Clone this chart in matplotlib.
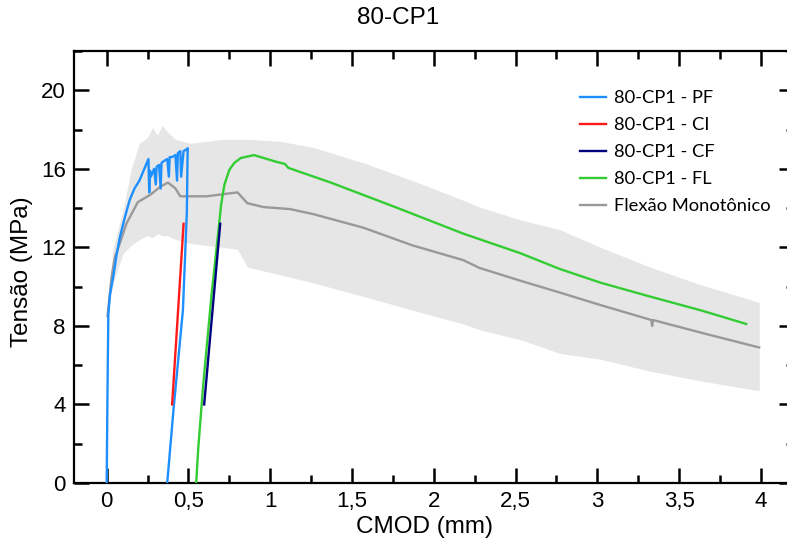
import matplotlib
matplotlib.use("Agg")
import matplotlib.pyplot as plt
from matplotlib.ticker import MultipleLocator, FixedLocator, FixedFormatter

# --- 80-CP1 - PF (pre-cracking, loading + unloading) ---
pf_x = [0.0, 0.004, 0.01, 0.02, 0.04, 0.06, 0.08, 0.11, 0.14, 0.17, 0.20, 0.22,
        0.24, 0.255, 0.26, 0.265, 0.27, 0.29, 0.30, 0.305, 0.32, 0.33, 0.335,
        0.35, 0.37, 0.38, 0.385, 0.40, 0.42, 0.43, 0.435, 0.45, 0.455, 0.47,
        0.49, 0.495, 0.49, 0.466, 0.408, 0.37]
pf_y = [0.0, 4.0, 8.6, 9.6, 10.5, 11.6, 12.5, 13.5, 14.4, 15.0, 15.4, 15.8,
        16.2, 16.5, 14.8, 15.9, 15.6, 16.0, 15.2, 16.1, 16.2, 15.0, 16.3,
        16.4, 16.5, 15.6, 16.6, 16.6, 16.7, 15.4, 16.8, 16.9, 15.6, 16.9,
        17.0, 17.05, 13.8, 8.8, 3.7, 0.0]

# --- 80-CP1 - CI (reloading, initial cycle) ---
ci_x = [0.40, 0.47]
ci_y = [4.0, 13.2]

# --- 80-CP1 - CF (reloading, final cycle) ---
cf_x = [0.596, 0.694]
cf_y = [4.0, 13.2]

# --- 80-CP1 - FL (final flexural loading) ---
fl_x = [0.545, 0.56, 0.59, 0.64, 0.685, 0.70, 0.72, 0.75, 0.78, 0.82, 0.90,
        1.04, 1.09, 1.11, 1.37, 1.78, 2.18, 2.53, 2.77, 3.02, 3.32, 3.63, 3.91]
fl_y = [-0.3, 1.8, 5.0, 9.5, 13.0, 14.2, 15.2, 15.95, 16.3, 16.55, 16.7,
        16.35, 16.25, 16.05, 15.3, 14.0, 12.7, 11.7, 10.9, 10.2, 9.5, 8.8, 8.1]

# --- Monotonic flexure (mean curve) ---
mono_x = [0.005, 0.03, 0.05, 0.08, 0.12, 0.19, 0.27, 0.33, 0.375, 0.42, 0.45,
          0.61, 0.80, 0.86, 0.96, 1.12, 1.26, 1.57, 1.87, 2.18, 2.28, 2.53,
          2.77, 3.02, 3.33, 3.335, 3.34, 3.66, 3.99]
mono_y = [8.5, 10.5, 11.5, 12.2, 13.2, 14.3, 14.7, 15.1, 15.3, 15.0, 14.6,
          14.6, 14.8, 14.25, 14.05, 13.95, 13.7, 13.0, 12.1, 11.35, 10.95,
          10.3, 9.7, 9.06, 8.3, 8.0, 8.3, 7.6, 6.9]

# --- Monotonic flexure scatter envelope ---
band_x = [0.0, 0.01, 0.04, 0.1, 0.15, 0.2, 0.25, 0.28, 0.31, 0.34, 0.37,
          0.42, 0.51, 0.71, 0.8, 0.86, 1.06, 1.26, 1.57, 1.87, 2.18, 2.28,
          2.53, 2.77, 3.02, 3.32, 3.63, 3.99]
band_hi = [8.5, 9.5, 12.0, 13.9, 16.0, 17.3, 17.6, 18.1, 17.7, 18.2, 17.9,
           17.5, 17.3, 17.5, 17.5, 17.5, 17.4, 17.1, 16.3, 15.4, 14.4, 14.05,
           13.4, 12.9, 12.0, 11.0, 10.1, 9.2]
band_lo = [8.0, 8.8, 10.2, 11.7, 12.1, 12.4, 12.6, 12.5, 12.7, 12.6, 12.6,
           12.4, 12.2, 12.0, 11.9, 11.0, 10.6, 10.2, 9.5, 8.8, 8.1, 7.8,
           7.3, 6.6, 6.3, 5.7, 5.2, 4.7]

x_ticks = [0, 0.5, 1, 1.5, 2, 2.5, 3, 3.5, 4]
x_tick_labels = ["0", "0,5", "1", "1,5", "2", "2,5", "3", "3,5", "4"]
y_ticks = [0, 4, 8, 12, 16, 20]
y_tick_labels = ["0", "4", "8", "12", "16", "20"]

series_labels = ["80-CP1 - PF", "80-CP1 - CI", "80-CP1 - CF", "80-CP1 - FL",
                 "Flexão Monotônico"]

C_PF = "#1E8FFF"
C_CI = "#FF1A1A"
C_CF = "#00007F"
C_FL = "#33CC33"
C_MONO = "#999999"
C_BAND = "#E6E6E6"

plt.rcParams["font.family"] = ["Liberation Sans", "DejaVu Sans"]

W, H = 787, 548
fig = plt.figure(figsize=(W / 100, H / 100), dpi=100)
# axes extends slightly past the right edge of the canvas
ax = fig.add_axes([74 / W, 1 - 483 / H, (793.6 - 74) / W, (483 - 51) / H])

ax.fill_between(band_x, band_lo, band_hi, color=C_BAND, lw=0, zorder=1)

lw = 1.7
h_mono, = ax.plot(mono_x, mono_y, color=C_MONO, lw=lw, zorder=2)
h_fl, = ax.plot(fl_x, fl_y, color=C_FL, lw=lw, zorder=3)
h_pf, = ax.plot(pf_x, pf_y, color=C_PF, lw=lw, zorder=4)
h_ci, = ax.plot(ci_x, ci_y, color=C_CI, lw=lw, zorder=5)
h_cf, = ax.plot(cf_x, cf_y, color=C_CF, lw=lw, zorder=5)

ax.set_xlim(-0.2, 4.2)
ax.set_ylim(0, 22)

ax.xaxis.set_major_locator(FixedLocator(x_ticks))
ax.xaxis.set_major_formatter(FixedFormatter(x_tick_labels))
ax.xaxis.set_minor_locator(MultipleLocator(0.25))
ax.yaxis.set_major_locator(FixedLocator(y_ticks))
ax.yaxis.set_major_formatter(FixedFormatter(y_tick_labels))
ax.yaxis.set_minor_locator(MultipleLocator(2))

ax.tick_params(which="both", direction="in", top=True, right=True,
               width=1.8, color="black")
ax.tick_params(which="major", length=10.5)
ax.tick_params(which="minor", length=5.5)
ax.tick_params(axis="x", which="major", labelsize=16, pad=6)
ax.tick_params(axis="y", which="major", labelsize=16, pad=6)
for s in ax.spines.values():
    s.set_linewidth(1.6)

ax.set_xlabel("CMOD (mm)", fontsize=17.5, va="center")
ax.xaxis.set_label_coords(425 / W, 1 - 527 / H, transform=fig.transFigure)
ax.set_ylabel("Tensão (MPa)", fontsize=17.5, va="center")
ax.yaxis.set_label_coords(22 / W, 1 - 272 / H, transform=fig.transFigure)

fig.text(398 / W, 1 - 18 / H, "80-CP1", fontsize=17.5, ha="center", va="center")

leg = ax.legend([h_pf, h_ci, h_cf, h_fl, h_mono], series_labels,
                loc="upper left", bbox_to_anchor=(580 / W, 1 - 90 / H),
                bbox_transform=fig.transFigure, frameon=False,
                prop={"family": ["Lato", "DejaVu Sans"], "size": 13.2},
                handlelength=1.4, handletextpad=0.45, labelspacing=0.6,
                borderaxespad=0, borderpad=0)

fig.savefig("out.png", dpi=100)
